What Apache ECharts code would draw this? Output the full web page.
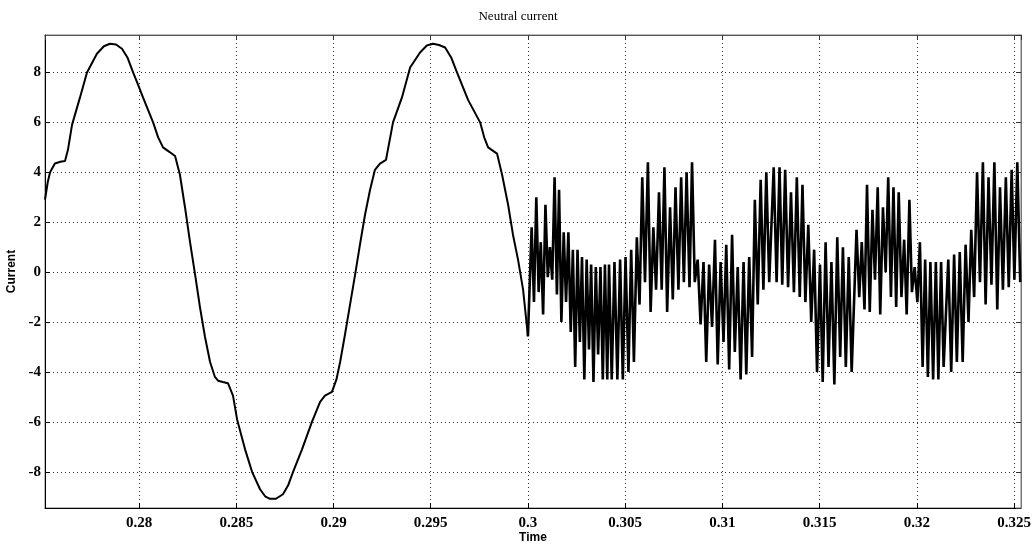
<!DOCTYPE html>
<html>
<head>
<meta charset="utf-8">
<title>Neutral current</title>
<script src="https://cdn.jsdelivr.net/npm/echarts@6/dist/echarts.min.js"></script>
<style>
  html, body { margin: 0; padding: 0; background: #fff; }
  #chart { width: 1036px; height: 544px; }
</style>
</head>
<body>
<div id="chart"></div>
<script>
// Axis limits
const timeMin = 0.27516;
const timeMax = 0.32536;
const currentMin = -9.45;
const currentMax = 9.5;

// Smooth part of the waveform, before 0.3 s
const seg1Time = [
  0.27516, 0.27530, 0.27542, 0.27567, 0.27595, 0.27619, 0.27634, 0.27655, 0.27696, 0.27732,
  0.27783, 0.27819, 0.27850, 0.27881, 0.27912, 0.27940, 0.27969, 0.27995, 0.28020, 0.28046,
  0.28072, 0.28098, 0.28123, 0.28159, 0.28185, 0.28210, 0.28236, 0.28262, 0.28288, 0.28313,
  0.28339, 0.28365, 0.28390, 0.28406, 0.28431, 0.28457, 0.28483, 0.28504, 0.28545, 0.28581,
  0.28622, 0.28648, 0.28673, 0.28704, 0.28740, 0.28766, 0.28792, 0.28838, 0.28889, 0.28931,
  0.28956, 0.28992, 0.29015, 0.29034, 0.29059, 0.29085, 0.29111, 0.29136, 0.29162, 0.29188,
  0.29213, 0.29239, 0.29270, 0.29306, 0.29352, 0.29394, 0.29445, 0.29480, 0.29512, 0.29543,
  0.29574, 0.29605, 0.29635, 0.29692, 0.29754, 0.29775, 0.29795, 0.29841, 0.29867, 0.29898,
  0.29923, 0.29949, 0.29975, 0.30000
];
const seg1Current = [
  2.9, 3.6, 4.0, 4.35, 4.42, 4.45, 4.9, 5.9, 7.0, 8.0,
  8.75, 9.05, 9.15, 9.12, 8.95, 8.6, 8.0, 7.5, 7.0, 6.5,
  6.0, 5.4, 5.0, 4.8, 4.65, 3.9, 2.6, 1.2, -0.1, -1.4,
  -2.6, -3.6, -4.2, -4.35, -4.4, -4.45, -4.95, -5.9, -7.1, -8.0,
  -8.7, -8.98, -9.08, -9.08, -8.9, -8.55, -8.0, -7.1, -6.0, -5.2,
  -4.95, -4.8, -4.3, -3.6, -2.5, -1.3, -0.1, 1.1, 2.3, 3.3,
  4.1, 4.35, 4.5, 6.0, 7.0, 8.2, 8.8, 9.08, 9.15, 9.1,
  9.0, 8.6, 8.0, 6.9, 6.0, 5.4, 5.0, 4.75, 3.9, 2.7,
  1.5, 0.5, -0.7, -2.57
];

// Switching ripple after 0.3 s (peak, trough, peak, trough ...)
const swTime = [
  0.30000,
  0.30019, 0.30031, 0.30043, 0.30055, 0.30066, 0.30078, 0.30090, 0.30102, 0.30113, 0.30125,
  0.30137, 0.30149, 0.30160, 0.30172, 0.30184, 0.30196, 0.30208, 0.30220, 0.30231, 0.30243,
  0.30255, 0.30267, 0.30278, 0.30290, 0.30302, 0.30314, 0.30325, 0.30337, 0.30349, 0.30361,
  0.30373, 0.30385, 0.30396, 0.30408,
  0.30417, 0.30431, 0.30445, 0.30460, 0.30474, 0.30488, 0.30502, 0.30517, 0.30531, 0.30545,
  0.30560, 0.30574, 0.30588, 0.30602, 0.30617, 0.30631, 0.30645, 0.30659, 0.30674, 0.30688,
  0.30702, 0.30716, 0.30731, 0.30745, 0.30759, 0.30774, 0.30788, 0.30802, 0.30816, 0.30831,
  0.30844, 0.30858, 0.30873, 0.30888, 0.30903, 0.30917, 0.30932, 0.30947, 0.30962, 0.30976,
  0.30991, 0.31006, 0.31020, 0.31035, 0.31050, 0.31064, 0.31079, 0.31094, 0.31109, 0.31123,
  0.31138, 0.31153, 0.31167, 0.31182, 0.31197, 0.31211, 0.31226, 0.31241,
  0.31264, 0.31279, 0.31294, 0.31308, 0.31323, 0.31338, 0.31353, 0.31368, 0.31383, 0.31398,
  0.31412, 0.31427, 0.31442, 0.31457, 0.31472, 0.31487, 0.31502, 0.31516, 0.31531, 0.31546,
  0.31561, 0.31576, 0.31591, 0.31606, 0.31620, 0.31635, 0.31650, 0.31665,
  0.31690, 0.31704, 0.31717, 0.31731, 0.31744, 0.31758, 0.31772, 0.31785, 0.31799, 0.31812,
  0.31826, 0.31840, 0.31853, 0.31867, 0.31880, 0.31894, 0.31907, 0.31921, 0.31935, 0.31948,
  0.31962, 0.31975, 0.31989, 0.32003, 0.32016, 0.32030, 0.32043, 0.32057, 0.32070, 0.32084,
  0.32098, 0.32111, 0.32125, 0.32138,
  0.32162, 0.32177, 0.32192, 0.32206, 0.32221, 0.32236, 0.32251, 0.32266, 0.32280, 0.32295,
  0.32310, 0.32325, 0.32340, 0.32354, 0.32369, 0.32384, 0.32399, 0.32414, 0.32428, 0.32443,
  0.32458, 0.32473, 0.32488, 0.32502, 0.32517, 0.32532
];
const swCurrent = [
  -2.57,
  1.8, -1.2, 3.0, -0.8, 1.2, -1.7, 2.7, -0.2, 1.0, -0.3,
  3.8, -0.9, 3.3, -2.0, 1.6, -1.2, 1.6, -2.4, 0.9, -3.8,
  0.9, -2.8, 0.6, -4.3, 0.5, -3.1, 0.3, -4.4, 0.2, -3.3,
  0.2, -4.3, 0.3, -4.3,
  0.3, -4.3, 0.4, -4.3, 0.5, -4.3, 0.6, -4.0, 0.9, -3.6,
  1.4, -1.3, 3.8, -0.4, 4.4, -1.6, 1.8, -0.7, 3.2, -0.7,
  4.2, -1.6, 2.6, -1.1, 3.4, -0.7, 3.8, -0.4, 4.0, -0.6,
  4.4, -0.4, 0.5, -2.1, 0.4, -3.6, 0.3, -2.2, 1.3, -3.7,
  0.4, -2.8, 1.1, -3.9, 1.5, -3.2, 0.2, -4.3, 0.4, -4.1,
  0.6, -3.4, 2.9, -1.3, 3.7, -0.7, 4.0, -0.4,
  4.2, -0.4, 4.2, -0.5, 4.1, -0.6, 3.2, -0.8, 3.8, -1.0,
  3.5, -1.2, 1.9, -2.0, 0.9, -4.0, 0.3, -4.4, 1.2, -3.8,
  0.4, -4.5, 1.4, -3.4, 1.0, -3.8, 0.6, -4.0,
  1.7, -1.0, 1.2, -1.5, 3.5, -1.6, 2.5, -0.3, 3.4, -1.7,
  2.6, 0.0, 3.8, -1.0, 3.4, -1.4, 3.2, -1.0, 1.3, -1.7,
  2.9, -0.8, 0.2, -1.2, 1.2, -3.8, 0.5, -4.2, 0.4, -4.3,
  0.4, -4.3, 0.4, -3.8,
  0.5, -4.0, 0.7, -3.6, 0.8, -3.6, 1.1, -2.0, 1.7, -1.0,
  4.0, -0.4, 4.4, -1.3, 3.8, -0.5, 4.4, -1.5, 3.4, -0.7,
  3.8, -0.6, 4.1, -0.3, 4.4, -0.4
];

const smoothData = seg1Time.map((t, i) => [t, seg1Current[i]]);
const rippleData = swTime.map((t, i) => [t, swCurrent[i]]);

const serif = "'Liberation Serif', 'DejaVu Serif', serif";
const sans = "'Liberation Sans', Arial, sans-serif";

const tickLabel = {
  fontFamily: serif,
  fontSize: 15,
  fontWeight: 'bold',
  color: '#000',
  showMinLabel: false,
  showMaxLabel: false
};
const gridDots = { show: true, lineStyle: { color: '#333', width: 1, type: [1, 3] } };

const chart = echarts.init(document.getElementById('chart'));
chart.setOption({
  animation: false,
  backgroundColor: '#fff',
  title: {
    text: 'Neutral current',
    left: 'center',
    top: 5,
    textStyle: { fontFamily: serif, fontSize: 13, fontWeight: 'normal', color: '#000' }
  },
  grid: {
    left: 45, right: 15, top: 35, bottom: 36,
    outerBoundsMode: 'none',
    containLabel: false,
    show: true, borderColor: '#777', borderWidth: 1
  },
  xAxis: [
    {
      type: 'value', min: timeMin, max: timeMax, splitNumber: 10,
      position: 'bottom',
      name: 'Time', nameLocation: 'middle', nameGap: 24, nameMoveOverlap: false,
      nameTextStyle: { fontFamily: sans, fontSize: 12, fontWeight: 'bold', color: '#000' },
      axisLine: { show: true, onZero: false, lineStyle: { color: '#000', width: 1 } },
      axisTick: { show: true, inside: true, length: 5, lineStyle: { color: '#000' } },
      axisLabel: Object.assign({ margin: 8, formatter: (v) => String(+v.toFixed(4)) }, tickLabel),
      splitLine: gridDots
    },
    {
      type: 'value', min: timeMin, max: timeMax, splitNumber: 10,
      position: 'top',
      axisLine: { show: true, onZero: false, lineStyle: { color: '#555', width: 1 } },
      axisTick: { show: true, inside: true, length: 5, lineStyle: { color: '#333' } },
      axisLabel: { show: false },
      splitLine: { show: false }
    }
  ],
  yAxis: [
    {
      type: 'value', min: currentMin, max: currentMax, splitNumber: 10,
      position: 'left',
      name: 'Current', nameLocation: 'middle', nameGap: 24, nameRotate: 90,
      nameTextStyle: { fontFamily: sans, fontSize: 12, fontWeight: 'bold', color: '#000' },
      axisLine: { show: true, onZero: false, lineStyle: { color: '#000', width: 1 } },
      axisTick: { show: true, inside: true, length: 5, lineStyle: { color: '#000' } },
      axisLabel: Object.assign({ margin: 4 }, tickLabel),
      splitLine: gridDots
    },
    {
      type: 'value', min: currentMin, max: currentMax, splitNumber: 10,
      position: 'right',
      axisLine: { show: true, onZero: false, lineStyle: { color: '#777', width: 1 } },
      axisTick: { show: true, inside: true, length: 5, lineStyle: { color: '#333' } },
      axisLabel: { show: false },
      splitLine: { show: false }
    }
  ],
  series: [
    {
      name: 'Neutral current',
      type: 'line',
      xAxisIndex: 0,
      yAxisIndex: 0,
      data: smoothData,
      showSymbol: false,
      clip: true,
      lineStyle: { color: '#000', width: 2 }
    },
    {
      name: 'Neutral current ripple',
      type: 'line',
      xAxisIndex: 0,
      yAxisIndex: 0,
      data: rippleData,
      showSymbol: false,
      clip: true,
      lineStyle: { color: '#000', width: 2.6, join: 'miter', miterLimit: 4 }
    }
  ]
});
</script>
</body>
</html>
